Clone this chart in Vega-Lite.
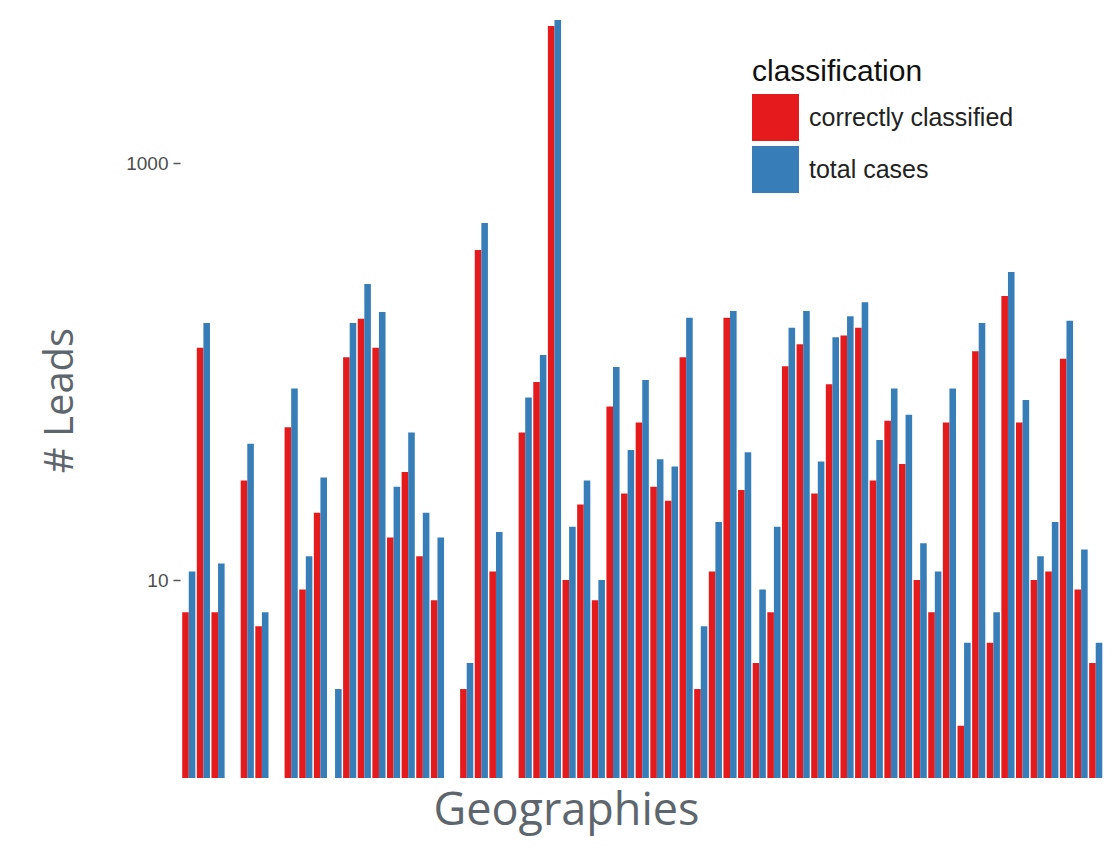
{
  "$schema": "https://vega.github.io/schema/vega-lite/v6.json",
  "autosize": {"type": "none"},
  "padding": {"left": 180, "top": 10, "right": 9.5, "bottom": 75},
  "width": 924.5,
  "height": 768,
  "background": "white",
  "config": {"view": {"stroke": null}},
  "datasets": {
    "leads": [
      {"geo": "G00", "correct": 7, "total": 11},
      {"geo": "G01", "correct": 130, "total": 171},
      {"geo": "G02", "correct": 7, "total": 12},
      {"geo": "G03", "correct": 1, "total": 1},
      {"geo": "G04", "correct": 30, "total": 45},
      {"geo": "G05", "correct": 6, "total": 7},
      {"geo": "G06", "correct": 1, "total": 1},
      {"geo": "G07", "correct": 54, "total": 83},
      {"geo": "G08", "correct": 9, "total": 13},
      {"geo": "G09", "correct": 21, "total": 31},
      {"geo": "G10", "correct": 1, "total": 3},
      {"geo": "G11", "correct": 117, "total": 171},
      {"geo": "G12", "correct": 179, "total": 263},
      {"geo": "G13", "correct": 130, "total": 193},
      {"geo": "G14", "correct": 16, "total": 28},
      {"geo": "G15", "correct": 33, "total": 51},
      {"geo": "G16", "correct": 13, "total": 21},
      {"geo": "G17", "correct": 8, "total": 16},
      {"geo": "G18", "correct": 1, "total": 1},
      {"geo": "G19", "correct": 3, "total": 4},
      {"geo": "G20", "correct": 383, "total": 515},
      {"geo": "G21", "correct": 11, "total": 17},
      {"geo": "G22", "correct": 1, "total": 1},
      {"geo": "G23", "correct": 51, "total": 75},
      {"geo": "G24", "correct": 89, "total": 120},
      {"geo": "G25", "correct": 4539, "total": 4853},
      {"geo": "G26", "correct": 10, "total": 18},
      {"geo": "G27", "correct": 23, "total": 30},
      {"geo": "G28", "correct": 8, "total": 10},
      {"geo": "G29", "correct": 68, "total": 105},
      {"geo": "G30", "correct": 26, "total": 42},
      {"geo": "G31", "correct": 57, "total": 91},
      {"geo": "G32", "correct": 28, "total": 38},
      {"geo": "G33", "correct": 24, "total": 35},
      {"geo": "G34", "correct": 117, "total": 181},
      {"geo": "G35", "correct": 3, "total": 6},
      {"geo": "G36", "correct": 11, "total": 19},
      {"geo": "G37", "correct": 181, "total": 195},
      {"geo": "G38", "correct": 27, "total": 41},
      {"geo": "G39", "correct": 4, "total": 9},
      {"geo": "G40", "correct": 7, "total": 18},
      {"geo": "G41", "correct": 106, "total": 162},
      {"geo": "G42", "correct": 135, "total": 195},
      {"geo": "G43", "correct": 26, "total": 37},
      {"geo": "G44", "correct": 87, "total": 146},
      {"geo": "G45", "correct": 149, "total": 184},
      {"geo": "G46", "correct": 162, "total": 215},
      {"geo": "G47", "correct": 30, "total": 47},
      {"geo": "G48", "correct": 58, "total": 83},
      {"geo": "G49", "correct": 36, "total": 62},
      {"geo": "G50", "correct": 10, "total": 15},
      {"geo": "G51", "correct": 7, "total": 11},
      {"geo": "G52", "correct": 57, "total": 83},
      {"geo": "G53", "correct": 2, "total": 5},
      {"geo": "G54", "correct": 125, "total": 171},
      {"geo": "G55", "correct": 5, "total": 7},
      {"geo": "G56", "correct": 230, "total": 300},
      {"geo": "G57", "correct": 57, "total": 73},
      {"geo": "G58", "correct": 10, "total": 13},
      {"geo": "G59", "correct": 11, "total": 19},
      {"geo": "G60", "correct": 115, "total": 175},
      {"geo": "G61", "correct": 9, "total": 14},
      {"geo": "G62", "correct": 4, "total": 5}
    ]
  },
  "data": {"name": "leads"},
  "transform": [
    {"fold": ["correct", "total"], "as": ["key", "count"]},
    {"lookup": "key", "from": {"data": {"values": [{"key": "correct", "classification": "correctly classified"}, {"key": "total", "classification": "total cases"}]}, "key": "key", "fields": ["classification"]}}
  ],
  "mark": {"type": "bar"},
  "encoding": {
    "x": {
      "field": "geo",
      "type": "nominal",
      "sort": null,
      "scale": {"paddingInner": 0.1, "paddingOuter": 0.15},
      "axis": {
        "title": "Geographies",
        "labels": false,
        "ticks": false,
        "domain": false,
        "titleFont": "Open Sans",
        "titleFontSize": 45,
        "titleFontWeight": "normal",
        "titleColor": "#5d666d",
        "titleX": 386,
        "titleY": 46,
        "titleAlign": "center",
        "titleBaseline": "alphabetic"
      }
    },
    "xOffset": {
      "field": "classification",
      "type": "nominal",
      "scale": {"paddingInner": 0, "paddingOuter": 0}
    },
    "y": {
      "field": "count",
      "type": "quantitative",
      "scale": {"type": "log", "domain": [1.123, 5420], "clamp": true, "nice": false},
      "axis": {
        "title": "# Leads",
        "values": [10, 1000],
        "format": "d",
        "grid": false,
        "domain": false,
        "tickSize": 7,
        "tickColor": "#555555",
        "tickWidth": 1.5,
        "labelPadding": 5,
        "labelFont": "Liberation Sans",
        "labelFontSize": 19,
        "labelColor": "#4d4d4d",
        "titleFont": "Open Sans",
        "titleFontSize": 40,
        "titleFontWeight": "normal",
        "titleColor": "#5d666d",
        "titleX": -120,
        "titleY": 390,
        "titleAngle": -90,
        "titleAlign": "center",
        "titleBaseline": "middle"
      }
    },
    "color": {
      "field": "classification",
      "type": "nominal",
      "scale": {"domain": ["correctly classified", "total cases"], "range": ["#E41A1C", "#377EB8"]},
      "legend": {
        "title": "classification",
        "orient": "none",
        "legendX": 572,
        "legendY": 47,
        "symbolType": "square",
        "symbolSize": 2209,
        "symbolStrokeWidth": 0,
        "symbolOpacity": 1,
        "rowPadding": 5,
        "labelOffset": 10,
        "titleFont": "Liberation Sans",
        "titleFontSize": 30,
        "titleFontWeight": "normal",
        "titleColor": "#111111",
        "titlePadding": 7,
        "labelFont": "Liberation Sans",
        "labelFontSize": 25,
        "labelColor": "#222222",
        "labelLimit": 400
      }
    }
  }
}
